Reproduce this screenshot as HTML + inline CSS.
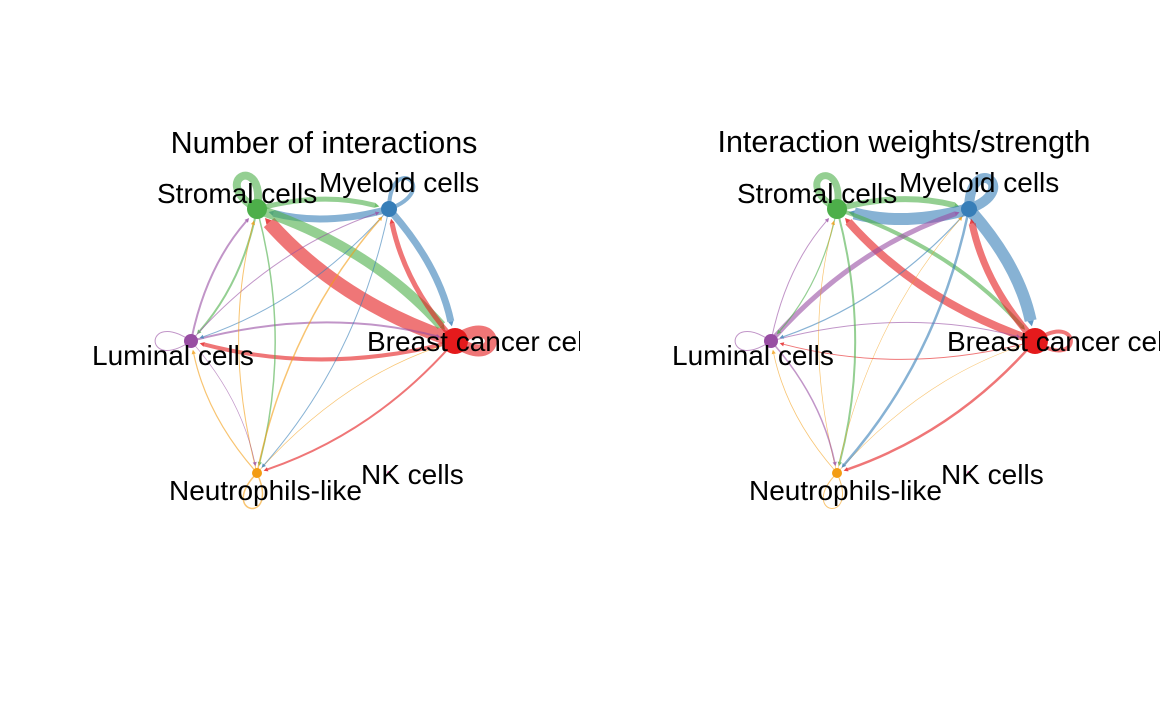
<!DOCTYPE html>
<html><head><meta charset="utf-8">
<style>
html,body{margin:0;padding:0;background:#fff;}
svg{display:block;font-family:"Liberation Sans",sans-serif;}
</style></head>
<body>
<svg id="chart" width="1160" height="717" viewBox="0 0 1160 717">
<defs>
<clipPath id="clipL"><rect x="0" y="0" width="580" height="717"/></clipPath>
<clipPath id="clipR"><rect x="580" y="0" width="580" height="717"/></clipPath>
</defs>
<g id="panelL" clip-path="url(#clipL)">
<text x="324" y="153" font-size="30.5" text-anchor="middle">Number of interactions</text>
</g>
<g id="panelR" clip-path="url(#clipR)">
<text x="904" y="152" font-size="30.5" text-anchor="middle">Interaction weights/strength</text>
</g>
</svg>
<script>
// node data
const cellNames = ["Breast cancer cells","Myeloid cells","Stromal cells","Luminal cells","Neutrophils-like","NK cells"];
const cellColors = ["#E41A1C","#377EB8","#4DAF4A","#984EA3","#F39C12","#F781BF"];
const nodeSizes = [13,8,10,7,5,2];
// edges: indices into cellNames
const edgeSrcL = [2,1,0,3,4, 2,1,0,2,1,0,0,3,0,4,2,3,1,3,2,4,1,4,3,4];
const edgeTgtL = [2,1,0,3,4, 1,2,2,0,0,1,3,0,4,0,3,2,3,1,4,2,4,1,4,3];
const edgeWL   = [8,4,12,1,1.5, 5,7,14,10,7,5,4,2,2,0.7,2,2,1,1,1.5,1,1,1.5,0.7,1.2];
const edgeSrcR = [2,1,0,3,4, 2,1,0,2,1,0,3,0,3,0,4,2,3,1,2,4,1,4,3,4];
const edgeTgtR = [2,1,0,3,4, 1,2,2,0,0,1,1,3,0,4,0,3,2,3,4,2,4,1,4,3];
const edgeWR   = [7,10,4,1,1, 6,12,8,4,12,7,5,1,1,2.5,0.6,1.2,1,1.2,2,0.7,2.5,0.6,1.5,0.8];

const NS="http://www.w3.org/2000/svg";
function el(tag, attrs, parent){const e=document.createElementNS(NS,tag);for(const k in attrs)e.setAttribute(k,attrs[k]);parent.appendChild(e);return e;}

function layout(cx){
  return [[cx+132,341],[cx+66,209],[cx-66,209],[cx-132,341],[cx-66,473],[cx+66,473]];
}
const loopAngles = [0,-55,-115,180,100,60];
const labelPos = [[44,351],[-4,192],[-166,203],[-231,365],[-154,500],[38,484]];

function drawPanel(g, cx, src, tgt, w){
  const pos = layout(cx);
  const eg = el('g',{},g);
  
  
  for(let i=0;i<src.length;i++){
    const s=src[i], t=tgt[i], col=cellColors[s];
    const sw=Math.max(0.6,w[i]);
    const [x1,y1]=pos[s];
    let d;
    if(s===t){
      const ang=loopAngles[s]*Math.PI/180;
      const a1=ang-0.35, a2=ang+0.35, L=58;
      d=`M${x1},${y1} C${x1+L*Math.cos(a1-0.25)},${y1+L*Math.sin(a1-0.25)} ${x1+L*Math.cos(a2+0.25)},${y1+L*Math.sin(a2+0.25)} ${x1},${y1}`;
      const p=el('path',{d:d,fill:'none',stroke:col,'stroke-width':sw,'stroke-opacity':0.6},eg);
      
      
      continue;
    }
    const [x2,y2]=pos[t];
    const dx=x2-x1, dy=y2-y1;
    const k=0.13;
    const mx=(x1+x2)/2+dy*k, my=(y1+y2)/2-dx*k;
    const ex=x2-mx, ey=y2-my, el2=Math.hypot(ex,ey);
    const off=nodeSizes[t]+2;
    const tx=x2-ex/el2*off, ty=y2-ey/el2*off;
    const sx0=mx-x1, sy0=my-y1, sl=Math.hypot(sx0,sy0);
    const sx=x1+sx0/sl*(nodeSizes[s]*0.5), sy=y1+sy0/sl*(nodeSizes[s]*0.5);
    const ux=ex/el2, uy=ey/el2;
    const ah=4+sw*0.15, aw=2+sw*0.1;
    const bx=tx-ux*ah, by=ty-uy*ah;
    d=`M${sx},${sy} Q${mx},${my} ${bx},${by}`;
    const p=el('path',{d:d,fill:'none',stroke:col,'stroke-width':sw,'stroke-opacity':0.6},eg);
    
    
    const a=el('polygon',{points:`${tx},${ty} ${bx-uy*aw},${by+ux*aw} ${bx+uy*aw},${by-ux*aw}`,fill:col,'fill-opacity':0.8},eg);
    
    
  }
  for(let i=0;i<cellNames.length;i++){
    const c=el('circle',{cx:pos[i][0],cy:pos[i][1],r:nodeSizes[i],fill:cellColors[i]},g);
    
    
  }
  for(let i=0;i<cellNames.length;i++){
    const lp=labelPos[i];
    const tx=el('text',{x:cx+lp[0],y:lp[1],'font-size':28,fill:'#000'},g);
    tx.textContent = cellNames[i];
    
    
  }
}
drawPanel(document.getElementById('panelL'),323,edgeSrcL,edgeTgtL,edgeWL);
drawPanel(document.getElementById('panelR'),903,edgeSrcR,edgeTgtR,edgeWR);
</script>
</body></html>
